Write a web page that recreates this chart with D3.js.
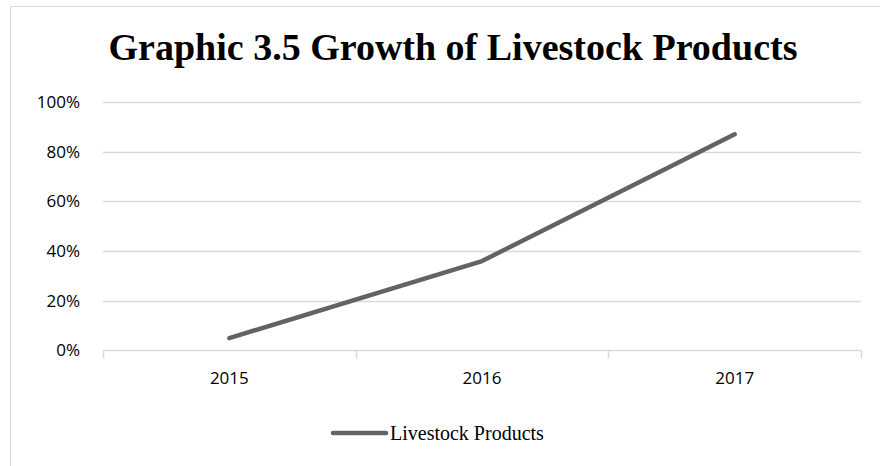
<!doctype html>
<html>

<head>
    <meta charset="UTF-8">
    <title>Graphic 3.5 Growth of Livestock Products</title>
    <script src="https://d3js.org/d3.v7.min.js"></script>
    <style>
        body { margin: 0; background: #fff; }
    </style>
</head>

<body>
    <script>
        var width = 880;
        var height = 466;

        // data
        var years = ["2015", "2016", "2017"];
        var growth = [0.05, 0.36, 0.87];
        var yTicks = [0, 0.2, 0.4, 0.6, 0.8, 1.0];
        var seriesName = "Livestock Products";
        var title = "Graphic 3.5 Growth of Livestock Products";

        var plotLeft = 103, plotRight = 861, plotTop = 102, plotBottom = 350.5;

        var svg = d3.select("body").append("svg")
            .attr("width", width)
            .attr("height", height);

        // outer chart border
        svg.append("rect")
            .attr("x", 10.5).attr("y", 6.5)
            .attr("width", 880).attr("height", 480)
            .attr("fill", "none")
            .attr("stroke", "#d9d9d9");

        svg.append("text")
            .attr("x", 453).attr("y", 60)
            .attr("text-anchor", "middle")
            .style("font-family", "'Liberation Serif', 'Times New Roman', serif")
            .style("font-weight", "bold")
            .style("font-size", "38px")
            .style("fill", "#000")
            .text(title);

        var x = d3.scaleBand().domain(years).range([plotLeft, plotRight]);
        var y = d3.scaleLinear().domain([0, 1]).range([plotBottom, plotTop]);

        // gridlines
        svg.append("g").selectAll("line").data(yTicks.slice(1)).enter().append("line")
            .attr("x1", plotLeft).attr("x2", plotRight)
            .attr("y1", function (d) { return Math.round(y(d)) + 0.5; })
            .attr("y2", function (d) { return Math.round(y(d)) + 0.5; })
            .attr("stroke", "#d9d9d9")
            .attr("stroke-width", 1.5);

        // y labels
        svg.append("g").selectAll("text").data(yTicks).enter().append("text")
            .attr("x", 80)
            .attr("y", function (d) { return y(d); })
            .attr("dy", "0.35em")
            .attr("text-anchor", "end")
            .style("font-family", "'Open Sans', 'Noto Sans', sans-serif")
            .style("font-size", "17px")
            .style("fill", "#000")
            .text(function (d) { return d3.format(".0%")(d); });

        // x axis
        var xAxis = d3.axisBottom(x).tickSize(0).tickPadding(21);
        var gx = svg.append("g")
            .attr("transform", "translate(0," + plotBottom + ")")
            .call(xAxis);
        gx.select(".domain").attr("stroke", "#d9d9d9").attr("stroke-width", 1.5)
            .attr("d", "M" + plotLeft + ",0H" + plotRight);
        gx.selectAll("text")
            .style("font-family", "'Open Sans', 'Noto Sans', sans-serif")
            .style("font-size", "17px")
            .style("fill", "#000");

        // category boundary ticks
        var bounds = years.map(function (d) { return x(d); }).concat([plotRight]);
        svg.append("g").selectAll("line").data(bounds).enter().append("line")
            .attr("x1", function (d) { return Math.round(d) + 0.5; })
            .attr("x2", function (d) { return Math.round(d) + 0.5; })
            .attr("y1", plotBottom).attr("y2", plotBottom + 8)
            .attr("stroke", "#d9d9d9")
            .attr("stroke-width", 1.5);

        // series line
        var line = d3.line()
            .x(function (d, i) { return x(years[i]) + x.bandwidth() / 2; })
            .y(function (d) { return y(d); });

        svg.append("path")
            .datum(growth)
            .attr("d", line)
            .attr("fill", "none")
            .attr("stroke", "#636363")
            .attr("stroke-width", 4.5)
            .attr("stroke-linecap", "round")
            .attr("stroke-linejoin", "round");

        // legend
        var lg = svg.append("g");
        lg.append("line")
            .attr("x1", 333).attr("x2", 386)
            .attr("y1", 433).attr("y2", 433)
            .attr("stroke", "#636363")
            .attr("stroke-width", 4.5)
            .attr("stroke-linecap", "round");
        lg.append("text")
            .attr("x", 390).attr("y", 440)
            .style("font-family", "'Liberation Serif', 'Times New Roman', serif")
            .style("font-size", "20px")
            .style("fill", "#000")
            .text(seriesName);
    </script>
</body>

</html>
